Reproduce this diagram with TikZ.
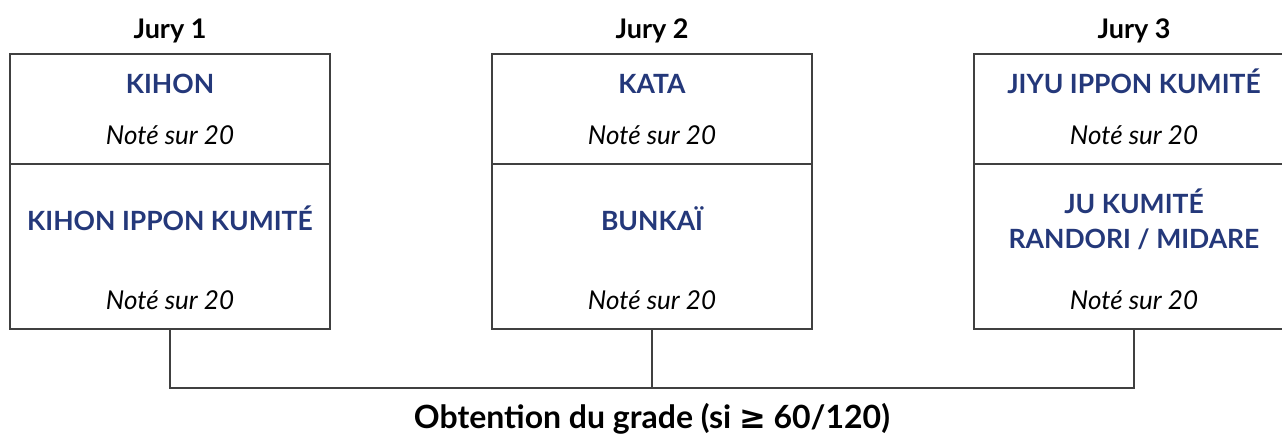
\documentclass[tikz,border=0pt]{standalone}
\usepackage{fontspec}
\setmainfont{Lato}
\definecolor{kblue}{RGB}{36,56,122}
\definecolor{kline}{RGB}{64,64,64}
\begin{document}
\begin{tikzpicture}[x=1pt,y=-1pt,
  sect/.style={draw=kline,line width=2pt,minimum width=320pt,inner sep=0pt,outer sep=0pt},
  jury/.style={anchor=base,font=\fontsize{27}{32}\selectfont\bfseries,inner sep=0pt},
  result/.style={anchor=base,font=\fontsize{32}{38}\selectfont\bfseries,inner sep=0pt},
  disc/.style={anchor=base,font=\fontsize{26.5}{31}\selectfont\bfseries,text=kblue,inner sep=0pt},
  note/.style={anchor=base,font=\fontsize{26}{31}\selectfont\itshape,inner sep=0pt},
  link/.style={draw=kline,line width=2pt}]
\useasboundingbox (0,0) rectangle (1282,436);
\clip (0,0) rectangle (1282,436);
% boxes
\node[sect,minimum height=110pt] (a1) at (170,109) {};
\node[sect,minimum height=165pt] (b1) at (170,246) {};
\node[sect,minimum height=110pt] (a2) at (652,109) {};
\node[sect,minimum height=165pt] (b2) at (652,246) {};
\node[sect,minimum height=110pt] (a3) at (1134,109) {};
\node[sect,minimum height=165pt] (b3) at (1134,246) {};
% titles
\node[jury] (j1) at (170,39) {Jury 1};
\node[jury] (j2) at (652,39) {Jury 2};
\node[jury] (j3) at (1134,39) {Jury 3};
% box 1
\node[disc] (k1) at (170,93) {KIHON};
\node[note] (n1) at (170,144) {Noté sur 20};
\node[disc] (k2) at (170,230) {KIHON IPPON KUMITÉ};
\node[note] (n2) at (170,309) {Noté sur 20};
% box 2
\node[disc] (k3) at (652,93) {KATA};
\node[note] (n3) at (652,144) {Noté sur 20};
\node[disc] (k4) at (652,230) {BUNKAÏ};
\node[note] (n4) at (652,309) {Noté sur 20};
% box 3
\node[disc] (k5) at (1134,93) {JIYU IPPON KUMITÉ};
\node[note] (n5) at (1134,144) {Noté sur 20};
\node[disc] (k6) at (1134,213) {JU KUMITÉ};
\node[disc] (k7) at (1134,248) {RANDORI / MIDARE};
\node[note] (n6) at (1134,309) {Noté sur 20};
% connectors
\coordinate (c1) at (170,388);
\coordinate (c3) at (1134,388);
\draw[link] (b1.south) -- (c1) -- (c3) -- (b3.south);
\draw[link] (b2.south) -- (b2.south |- c1);
% result
\node[result] (res) at (652,428) {Obtention du grade (si {\fontspec{DejaVu Sans}≥} 60/120)};
\end{tikzpicture}
\end{document}
